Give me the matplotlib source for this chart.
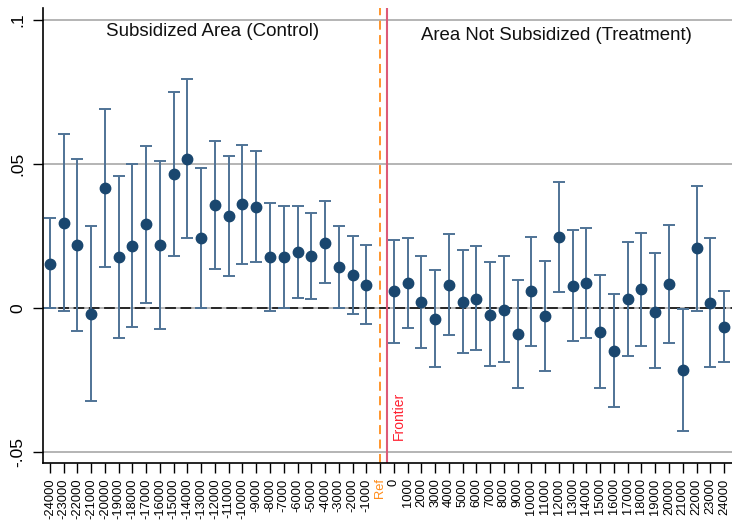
import matplotlib
matplotlib.use("Agg")
import matplotlib.pyplot as plt
import numpy as np

plt.rcParams['font.family'] = ['Liberation Sans', 'DejaVu Sans']

labels = ['-24000', '-23000', '-22000', '-21000', '-20000', '-19000', '-18000', '-17000',
          '-16000', '-15000', '-14000', '-13000', '-12000', '-11000', '-10000', '-9000',
          '-8000', '-7000', '-6000', '-5000', '-4000', '-3000', '-2000', '-1000', 'Ref',
          '0', '1000', '2000', '3000', '4000', '5000', '6000', '7000', '8000', '9000',
          '10000', '11000', '12000', '13000', '14000', '15000', '16000', '17000', '18000',
          '19000', '20000', '21000', '22000', '23000', '24000']

est = [0.0153, 0.0296, 0.0219, -0.0019, 0.0416, 0.0178, 0.0216, 0.0291, 0.0219, 0.0464,
       0.0519, 0.0244, 0.0359, 0.0318, 0.0360, 0.0351, 0.0178, 0.0178, 0.0196, 0.0180,
       0.0227, 0.0141, 0.0115, 0.0080, np.nan,
       0.0059, 0.0088, 0.0020, -0.0037, 0.0080, 0.0021, 0.0032, -0.0023, -0.0005, -0.0091,
       0.0059, -0.0028, 0.0248, 0.0078, 0.0087, -0.0082, -0.0148, 0.0032, 0.0065, -0.0013,
       0.0083, -0.0216, 0.0207, 0.0017, -0.0064]

ci_hi = [0.0312, 0.0603, 0.0518, 0.0284, 0.0692, 0.0457, 0.0499, 0.0564, 0.0510, 0.0751,
         0.0794, 0.0487, 0.0581, 0.0529, 0.0567, 0.0546, 0.0365, 0.0354, 0.0354, 0.0329,
         0.0373, 0.0284, 0.0249, 0.0218, np.nan,
         0.0236, 0.0244, 0.0182, 0.0132, 0.0257, 0.0200, 0.0216, 0.0159, 0.0180, 0.0096,
         0.0248, 0.0163, 0.0439, 0.0271, 0.0279, 0.0116, 0.0049, 0.0230, 0.0262, 0.0190,
         0.0288, -0.0003, 0.0425, 0.0243, 0.0060]

ci_lo = [0.0000, -0.0010, -0.0080, -0.0322, 0.0141, -0.0104, -0.0064, 0.0017, -0.0073, 0.0182,
         0.0244, 0.0000, 0.0137, 0.0110, 0.0154, 0.0159, -0.0010, 0.0001, 0.0035, 0.0030,
         0.0088, 0.0001, -0.0019, -0.0054, np.nan,
         -0.0123, -0.0068, -0.0139, -0.0206, -0.0095, -0.0157, -0.0147, -0.0201, -0.0189, -0.0277,
         -0.0130, -0.0219, 0.0056, -0.0116, -0.0104, -0.0277, -0.0343, -0.0167, -0.0130, -0.0209,
         -0.0122, -0.0428, -0.0009, -0.0206, -0.0188]

ref_label = 'Ref'
frontier_label = 'Frontier'
left_title = 'Subsidized Area (Control)'
right_title = 'Area Not Subsidized (Treatment)'
yticks = [-0.05, 0, 0.05, 0.1]
yticklabels = ['-.05', '0', '.05', '.1']

navy = '#1a476f'
ci_col = '#4f7396'

fig = plt.figure(figsize=(7.32, 5.21), dpi=100)
ax = fig.add_axes([43/732, 1 - 463/521, (732 - 43)/732, (463 - 8)/521])

x = np.arange(len(labels))
est_a = np.array(est)
hi_a = np.array(ci_hi)
lo_a = np.array(ci_lo)
ok = ~np.isnan(est_a)

for yv in [0.1, 0.05, 0, -0.05]:
    ax.axhline(yv, color='#a8a8a8', lw=1.2, zorder=1)
ax.axhline(0, color='black', lw=1.1, ls=(0, (7, 3)), zorder=2)

ax.errorbar(x[ok], est_a[ok], yerr=[est_a[ok] - lo_a[ok], hi_a[ok] - est_a[ok]],
            fmt='none', ecolor=ci_col, elinewidth=1.4, capsize=4.5, capthick=1.4, zorder=3)
ax.plot(x[ok], est_a[ok], 'o', color=navy, ms=7.5, zorder=4)

ref_i = labels.index(ref_label)
ax.axvline(ref_i, color='#ff8c1a', lw=1.3, ls=(0, (5, 3)), zorder=2)
ax.axvline(ref_i + 0.5, color='#dd5a78', lw=1.5, zorder=2)
ax.text(ref_i + 1.35, -0.0458, frontier_label, rotation=90, color='#ff2030',
        fontsize=10, ha='center', va='bottom')

fig.text(213/732, 1 - 32/521, left_title, fontsize=13.5,
         ha='center', va='center', color='#111111')
fig.text(556/732, 1 - 35/521, right_title, fontsize=13.4,
         ha='center', va='center', color='#111111')

ax.set_xlim(-0.5, 49.58)
ax.set_ylim(-0.0538, 0.1042)
ax.set_xticks(x)
ax.set_xticklabels(labels, rotation=90, fontsize=9.3)
for lbl in ax.get_xticklabels():
    if lbl.get_text() == ref_label:
        lbl.set_color('#ff8c1a')
ax.set_yticks(yticks)
ax.set_yticklabels(yticklabels, rotation=90, fontsize=12.5, va='center')
ax.tick_params(axis='x', length=7, width=1, pad=4)
ax.tick_params(axis='y', length=7, width=1, pad=6)
for s in ['top', 'right']:
    ax.spines[s].set_visible(False)
ax.spines['left'].set_linewidth(1.2)
ax.spines['bottom'].set_linewidth(1.2)

fig.savefig('out.png', dpi=100)
